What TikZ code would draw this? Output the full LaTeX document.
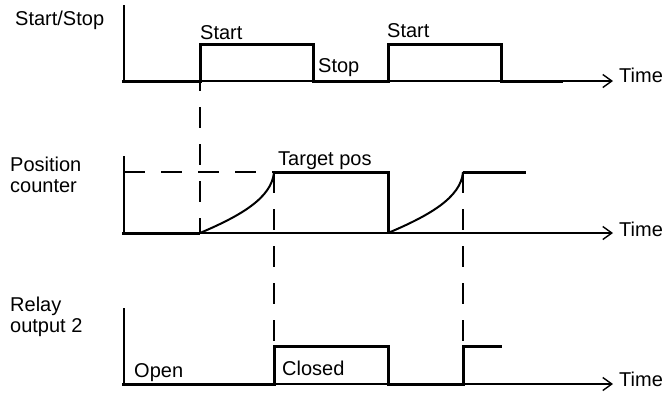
\documentclass[tikz,border=0pt]{standalone}
\usepackage{fontspec}
\setmainfont{Liberation Sans}
\usetikzlibrary{arrows.meta}

\begin{document}
\begin{tikzpicture}[
  x=1pt, y=-1pt,
  font=\fontsize{20}{21}\selectfont,
  axis/.style={line width=1.6pt},
  sig/.style={line width=3pt},
  ramp/.style={line width=2pt},
  guide/.style={line width=1.6pt, dash pattern=on 21pt off 16pt},
  lbl/.style={inner sep=0pt, anchor=base west, align=left},
  >={Straight Barb[length=9pt,width=13pt,line width=1.4pt]}
]
\useasboundingbox (0,0) rectangle (670,397);

% Start/Stop row
\node[lbl] (ssname) at (15,25) {Start/Stop};
\draw[axis] (124,5) -- (124,81);
\draw[axis,->] (122,81) -- (613,81);
\node[lbl] (ttop) at (619,82) {Time};
\draw[sig] (122,81) -- (200,81) -- (200,44) -- (313,44) -- (313,81)
  -- (388,81) -- (388,44) -- (501,44) -- (501,81) -- (563,81);
\node[lbl] (start1) at (200,39) {Start};
\node[lbl] (stop) at (318,72) {Stop};
\node[lbl] (start2) at (387,37) {Start};

% Position counter row
\node[lbl] (posname) at (10,192) {Position\\counter};
\draw[axis] (124,156) -- (124,233);
\draw[axis,->] (122,233) -- (613,233);
\node[lbl] (tmid) at (619,236) {Time};
\draw[sig] (122,233) -- (200,233);
\draw[ramp] (200,233) .. controls (240,216) and (272,198) .. (274,172);
\draw[sig] (274,172) -- (388,172) -- (388,233);
\draw[ramp] (388,233) .. controls (428,216) and (461,198) .. (463,172);
\draw[sig] (463,172) -- (526,172);
\node[lbl] (target) at (278,165) {Target pos};

% Relay output 2 row
\node[lbl] (relname) at (10,332) {Relay\\output 2};
\draw[axis] (124,308) -- (124,385);
\draw[axis,->] (122,384) -- (613,384);
\node[lbl] (tbot) at (619,386) {Time};
\draw[sig] (122,384) -- (274,384) -- (274,346) -- (388,346) -- (388,384)
  -- (463,384) -- (463,346) -- (502,346);
\node[lbl] (open) at (134,377) {Open};
\node[lbl] (closed) at (282,375) {Closed};

% guide lines
\draw[guide, dash phase=11pt] (200,81) -- (200,233);
\draw[guide] (124,172) -- (274,172);
\draw[guide] (274,172) -- (274,346);
\draw[guide] (463,172) -- (463,346);
\end{tikzpicture}
\end{document}
